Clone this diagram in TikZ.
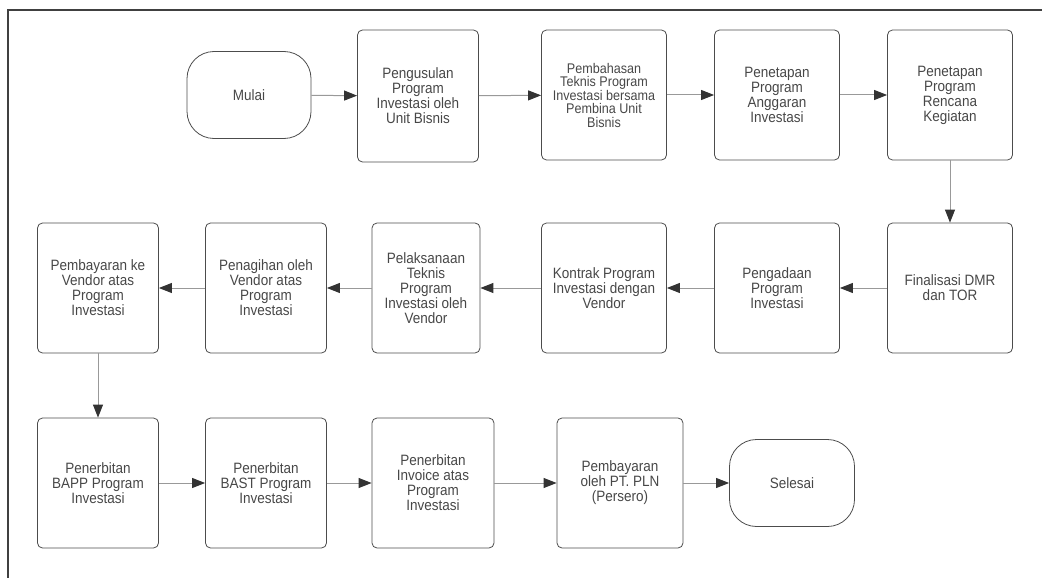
\documentclass[tikz,border=0pt]{standalone}
\usepackage{fontspec}
\setmainfont[FakeStretch=0.9]{Liberation Sans}
\usetikzlibrary{arrows.meta, positioning}

\begin{document}
\begin{tikzpicture}[x=1pt, y=-1pt, >=Stealth,
    proc/.style={draw=black!70, line width=0.8pt, rounded corners=5pt, align=center, text=black!72,
        font=\fontsize{15}{15}\selectfont, minimum width=125pt, minimum height=130pt, inner sep=1pt},
    term/.style={draw=black!70, line width=0.8pt, rounded corners=27pt, align=center, text=black!72,
        font=\fontsize{15}{15}\selectfont, minimum width=124pt, minimum height=87pt},
    arr/.style={draw=black!40, line width=1pt, -{Triangle[length=13pt, width=10pt, color=black!80]}}]
    \useasboundingbox (0,0) rectangle (1042,578);

    % Bingkai
    \draw[black!75, line width=1.2pt] (8,578) -- (8,10) -- (1042,10);

    % Baris pertama
    \node[term] (mulai) at (249,95) {Mulai};
    \node[proc, minimum width=121pt, minimum height=132pt] (usul) at (418,96) {Pengusulan\\Program\\Investasi oleh\\Unit Bisnis};
    \node[proc, font=\fontsize{14}{13.5}\selectfont] (bahas) at (604,95) {Pembahasan\\Teknis Program\\Investasi bersama\\Pembina Unit\\Bisnis};
    \node[proc] (anggaran) at (777,95) {Penetapan\\Program\\Anggaran\\Investasi};
    \node[proc] (rencana) at (950,95) {Penetapan\\Program\\Rencana\\Kegiatan};

    % Baris kedua
    \node[proc] (final) at (950,288) {Finalisasi DMR\\dan TOR};
    \node[proc] (adaan) at (777,288) {Pengadaan\\Program\\Investasi};
    \node[proc] (kontrak) at (604,288) {Kontrak Program\\Investasi dengan\\Vendor};
    \node[proc, minimum width=108pt] (laksana) at (426,288) {Pelaksanaan\\Teknis\\Program\\Investasi oleh\\Vendor};
    \node[proc, minimum width=121pt] (tagih) at (266,288) {Penagihan oleh\\Vendor atas\\Program\\Investasi};
    \node[proc, minimum width=121pt] (bayarvendor) at (98,288) {Pembayaran ke\\Vendor atas\\Program\\Investasi};

    % Baris ketiga
    \node[proc, minimum width=121pt] (bapp) at (98,483) {Penerbitan\\BAPP Program\\Investasi};
    \node[proc, minimum width=121pt] (bast) at (266,483) {Penerbitan\\BAST Program\\Investasi};
    \node[proc, minimum width=122pt] (invoice) at (433,483) {Penerbitan\\Invoice atas\\Program\\Investasi};
    \node[proc, minimum width=126pt] (bayarpln) at (620,483) {Pembayaran\\oleh PT. PLN\\(Persero)};
    \node[term, minimum width=125pt] (selesai) at (792,483) {Selesai};

    % Alur
    \draw[arr] (mulai) -- (usul);
    \draw[arr] (usul) -- (bahas);
    \draw[arr] (bahas) -- (anggaran);
    \draw[arr] (anggaran) -- (rencana);
    \draw[arr] (rencana) -- (final);
    \draw[arr] (final) -- (adaan);
    \draw[arr] (adaan) -- (kontrak);
    \draw[arr] (kontrak) -- (laksana);
    \draw[arr] (laksana) -- (tagih);
    \draw[arr] (tagih) -- (bayarvendor);
    \draw[arr] (bayarvendor) -- (bapp);
    \draw[arr] (bapp) -- (bast);
    \draw[arr] (bast) -- (invoice);
    \draw[arr] (invoice) -- (bayarpln);
    \draw[arr] (bayarpln) -- (selesai);
\end{tikzpicture}
\end{document}
